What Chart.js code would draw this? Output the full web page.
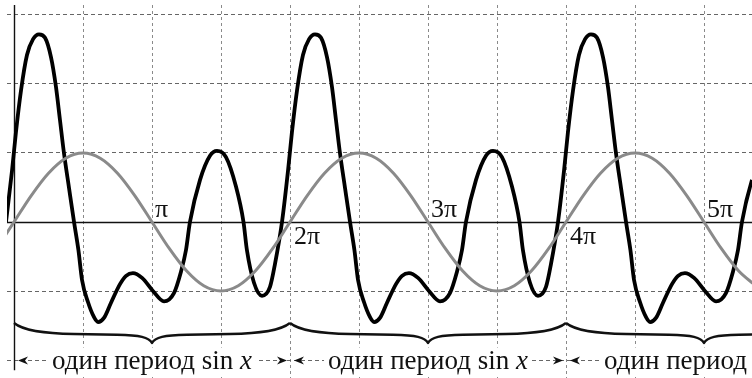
<!DOCTYPE html>
<html>
<head>
<meta charset="utf-8">
<script src="https://cdn.jsdelivr.net/npm/chart.js@4.4.1/dist/chart.umd.min.js"></script>
<style>
  html, body { margin: 0; padding: 0; background: #fff; overflow: hidden; }
  canvas { display: block; }
</style>
</head>
<body>
<canvas id="c" width="752" height="378"></canvas>
<script>
// Horizontal positions are in multiples of π.

// Periodic curve (black), sampled points
const curveX = [
  -0.058, -0.014, 0.014, 0.051, 0.094, 0.138, 0.181, 0.225, 0.268, 0.304, 0.333, 0.362, 0.399, 0.435,
  0.467, 0.493, 0.536, 0.580, 0.609, 0.652, 0.703, 0.768, 0.812, 0.862, 0.928, 1.007, 1.087, 1.159,
  1.210, 1.246, 1.275, 1.348, 1.420, 1.471, 1.536, 1.609, 1.663, 1.688, 1.739, 1.797, 1.855, 1.891,
  1.942, 1.986, 2.014, 2.051, 2.094, 2.138, 2.181, 2.225, 2.268, 2.304, 2.333, 2.362, 2.399, 2.435,
  2.467, 2.493, 2.536, 2.580, 2.609, 2.652, 2.703, 2.768, 2.812, 2.862, 2.928, 3.007, 3.087, 3.159,
  3.210, 3.246, 3.275, 3.348, 3.420, 3.471, 3.536, 3.609, 3.663, 3.688, 3.739, 3.797, 3.855, 3.891,
  3.942, 3.986, 4.014, 4.051, 4.094, 4.138, 4.181, 4.225, 4.268, 4.304, 4.333, 4.362, 4.399, 4.435,
  4.467, 4.493, 4.536, 4.580, 4.609, 4.652, 4.703, 4.768, 4.812, 4.862, 4.928, 5.007, 5.087, 5.159,
  5.210, 5.246, 5.275, 5.348, 5.420
];
const curveY = [
  0, 0.75, 1.30, 1.91, 2.42, 2.65, 2.72, 2.67, 2.39, 1.96, 1.48, 1.00, 0.49, 0,
  -0.41, -0.84, -1.16, -1.38, -1.45, -1.39, -1.17, -0.90, -0.78, -0.74, -0.81, -1.00, -1.15, -1.03,
  -0.72, -0.41, 0, 0.61, 0.96, 1.03, 0.94, 0.51, 0, -0.41, -0.88, -1.07, -0.94, -0.61,
  0, 0.75, 1.30, 1.91, 2.42, 2.65, 2.72, 2.67, 2.39, 1.96, 1.48, 1.00, 0.49, 0,
  -0.41, -0.84, -1.16, -1.38, -1.45, -1.39, -1.17, -0.90, -0.78, -0.74, -0.81, -1.00, -1.15, -1.03,
  -0.72, -0.41, 0, 0.61, 0.96, 1.03, 0.94, 0.51, 0, -0.41, -0.88, -1.07, -0.94, -0.61,
  0, 0.75, 1.30, 1.91, 2.42, 2.65, 2.72, 2.67, 2.39, 1.96, 1.48, 1.00, 0.49, 0,
  -0.41, -0.84, -1.16, -1.38, -1.45, -1.39, -1.17, -0.90, -0.78, -0.74, -0.81, -1.00, -1.15, -1.03,
  -0.72, -0.41, 0, 0.61, 0.96
];

// sin x (grey), one value every π/8 starting at -π/8
const sineStartX = -0.125;
const sineStepX = 0.125;
const sineY = [
  -0.383, 0, 0.383, 0.707, 0.924, 1, 0.924, 0.707, 0.383, 0, -0.383, -0.707, -0.924, -1, -0.924, -0.707, -0.383, 0,
  0.383, 0.707, 0.924, 1, 0.924, 0.707, 0.383, 0, -0.383, -0.707, -0.924, -1, -0.924, -0.707, -0.383, 0,
  0.383, 0.707, 0.924, 1, 0.924, 0.707, 0.383, 0, -0.383, -0.707, -0.924
];

// Grid and labels
const xGridValues = [0.5, 1, 1.5, 2, 2.5, 3, 3.5, 4, 4.5, 5];
const yGridValues = [-2, -1, 1, 2, 3];
const piTickValues = [1, 2, 3, 4, 5];
const piTickLabels = ['π', '2π', '3π', '4π', '5π'];
const periodStarts = [0, 2, 4];
const periodLength = 2;
const captionText = 'один период sin ';
const captionVar = 'x';

const SERIF = '"Liberation Serif", "DejaVu Serif", serif';
const TICK_FONT = '26px ' + SERIF;
const CAPTION_FONT = '27px ' + SERIF;
const CAPTION_VAR_FONT = 'italic 27px ' + SERIF;

const curvePoints = curveX.map((x, i) => ({ x: x, y: curveY[i] }));
const sinePoints = sineY.map((y, i) => ({ x: sineStartX + i * sineStepX, y: y }));

const whiteBackground = {
  id: 'whiteBackground',
  beforeDraw(chart) {
    const ctx = chart.ctx;
    ctx.save();
    ctx.fillStyle = '#fff';
    ctx.fillRect(0, 0, chart.width, chart.height);
    ctx.restore();
  }
};

// Solid coordinate axes through the origin
const originAxes = {
  id: 'originAxes',
  beforeDatasetsDraw(chart) {
    const { ctx, chartArea, scales: { x, y } } = chart;
    const x0 = Math.round(x.getPixelForValue(0)) + 0.5;
    const y0 = Math.round(y.getPixelForValue(0)) + 0.5;
    ctx.save();
    ctx.strokeStyle = '#111';
    ctx.lineWidth = 1.4;
    ctx.beginPath();
    ctx.moveTo(chartArea.left, y0);
    ctx.lineTo(chartArea.right, y0);
    ctx.moveTo(x0, chartArea.top);
    ctx.lineTo(x0, y.getPixelForValue(-2.15));
    ctx.stroke();
    ctx.restore();
  }
};

function arrowHead(ctx, tipX, tipY, dir) {
  // dir = -1 points left, +1 points right
  ctx.beginPath();
  ctx.moveTo(tipX, tipY);
  ctx.lineTo(tipX - dir * 10, tipY - 4);
  ctx.lineTo(tipX - dir * 7, tipY);
  ctx.lineTo(tipX - dir * 10, tipY + 4);
  ctx.closePath();
  ctx.fill();
}

// Tick labels, period braces and captions
const annotations = {
  id: 'annotations',
  afterDraw(chart) {
    const { ctx, scales: { x, y } } = chart;
    const y0 = y.getPixelForValue(0);
    ctx.save();
    ctx.fillStyle = '#111';
    ctx.font = TICK_FONT;
    ctx.textBaseline = 'alphabetic';
    ctx.textAlign = 'left';
    piTickValues.forEach((v, i) => {
      const px = x.getPixelForValue(v);
      if (v % 2 === 1) ctx.fillText(piTickLabels[i], px + 3, y0 - 5);
      else ctx.fillText(piTickLabels[i], px + 4, y0 + 22);
    });

    // braces
    ctx.strokeStyle = '#111';
    ctx.lineWidth = 2.4;
    ctx.lineJoin = 'round';
    const yEnd = 323, yBody = 334, yTip = 343;
    periodStarts.forEach(s => {
      const a = x.getPixelForValue(s);
      const b = x.getPixelForValue(s + periodLength);
      const m = (a + b) / 2;
      ctx.beginPath();
      ctx.moveTo(a, yEnd);
      ctx.bezierCurveTo(a + 10, yBody - 3, a + 30, yBody - 0.5, a + 60, yBody);
      ctx.lineTo(m - 35, yBody + 0.8);
      ctx.bezierCurveTo(m - 12, yBody + 1.2, m - 3, yBody + 3, m, yTip);
      ctx.bezierCurveTo(m + 3, yBody + 3, m + 12, yBody + 1.2, m + 35, yBody + 0.8);
      ctx.lineTo(b - 60, yBody);
      ctx.bezierCurveTo(b - 30, yBody - 0.5, b - 10, yBody - 3, b, yEnd);
      ctx.stroke();
    });

    // captions with arrows
    const yArrow = y.getPixelForValue(-2) + 0.5;
    const baseY = yArrow + 8;
    periodStarts.forEach(s => {
      const a = x.getPixelForValue(s);
      const b = x.getPixelForValue(s + periodLength);
      const m = (a + b) / 2;
      ctx.font = CAPTION_FONT;
      const w1 = ctx.measureText(captionText).width;
      ctx.font = CAPTION_VAR_FONT;
      const w2 = ctx.measureText(captionVar).width;
      const w = w1 + w2;
      const left = m - w / 2;
      ctx.fillStyle = '#fff';
      ctx.fillRect(left - 4, yArrow - 13, w + 8, 28);
      ctx.fillStyle = '#111';
      ctx.font = CAPTION_FONT;
      ctx.fillText(captionText, left, baseY);
      ctx.font = CAPTION_VAR_FONT;
      ctx.fillText(captionVar, left + w1, baseY);
      arrowHead(ctx, a + 4, yArrow, -1);
      arrowHead(ctx, b - 3, yArrow, 1);
    });
    ctx.restore();
  }
};

new Chart(document.getElementById('c'), {
  type: 'line',
  data: {
    datasets: [
      {
        data: sinePoints,
        borderColor: '#8a8a8a',
        borderWidth: 3,
        pointRadius: 0,
        cubicInterpolationMode: 'monotone',
        fill: false
      },
      {
        data: curvePoints,
        borderColor: '#000',
        borderWidth: 3.8,
        pointRadius: 0,
        cubicInterpolationMode: 'monotone',
        fill: false
      }
    ]
  },
  options: {
    responsive: false,
    devicePixelRatio: 1,
    animation: false,
    events: [],
    layout: { padding: { left: 7, top: 5, right: 0, bottom: 0 } },
    plugins: { legend: { display: false }, tooltip: { enabled: false } },
    scales: {
      x: {
        type: 'linear',
        min: -7 / 138,
        max: 738 / 138,
        afterFit(scale) { scale.height = 0; },
        afterBuildTicks(scale) { scale.ticks = xGridValues.map(v => ({ value: v })); },
        ticks: { display: false },
        grid: { color: '#8a8a8a', lineWidth: 1, drawTicks: false },
        border: { display: false, dash: [3, 3] }
      },
      y: {
        type: 'linear',
        min: -1 - 87 / 69,
        max: 3 + 10 / 69,
        afterFit(scale) { scale.width = 0; },
        afterBuildTicks(scale) { scale.ticks = yGridValues.map(v => ({ value: v })); },
        ticks: { display: false },
        grid: { color: '#666', lineWidth: 1, drawTicks: false },
        border: { display: false, dash: [4, 3] }
      }
    }
  },
  plugins: [whiteBackground, originAxes, annotations]
});
</script>
</body>
</html>
